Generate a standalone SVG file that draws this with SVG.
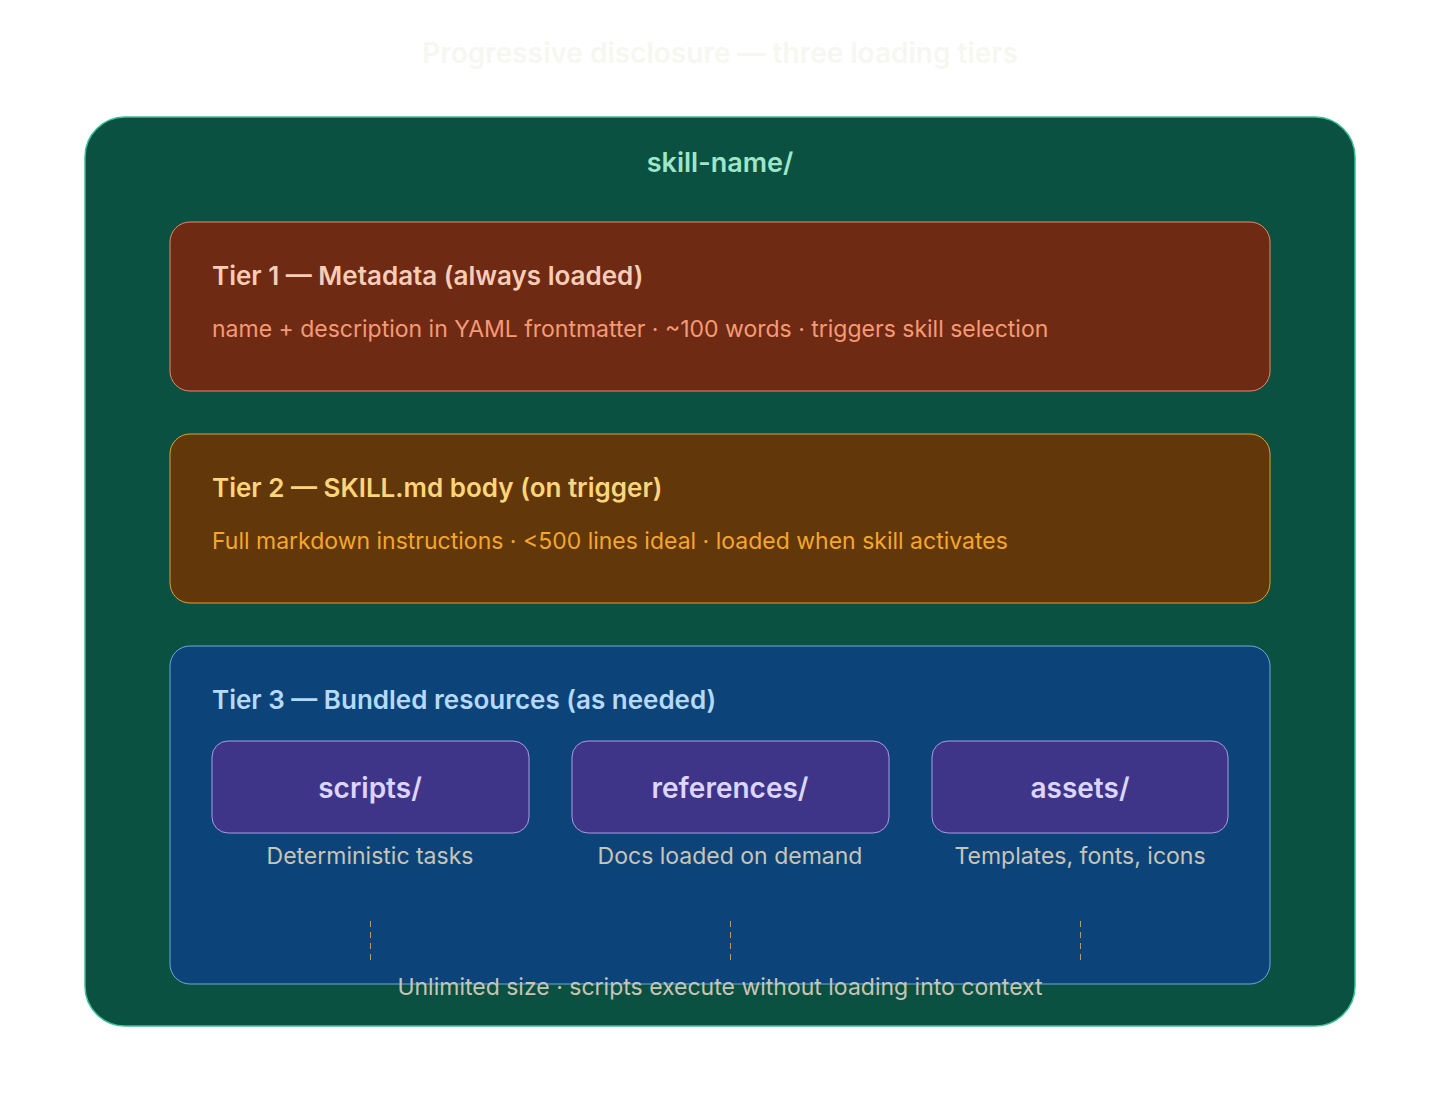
<svg xmlns="http://www.w3.org/2000/svg" width="1440" height="1102" viewBox="0 0 1440 1102">
<style>
text{font-family:Inter,"Noto Sans",sans-serif}
.h{font-size:26px;font-weight:600}
.d{font-size:23px}
.sub{fill:#3f3588;stroke:#a99be6;stroke-width:1}
.st{font-size:28px;font-weight:600;fill:#dcd6ff;text-anchor:middle}
.cap{font-size:23px;fill:#c8c4b8;text-anchor:middle}
</style>
<rect width="1440" height="1102" fill="#ffffff"/>
<text x="720" y="63" font-size="28" font-weight="600" fill="#f7f7f2" text-anchor="middle">Progressive disclosure — three loading tiers</text>
<g id="skill">
<rect x="85" y="117" width="1270" height="909" rx="40" fill="#0a5142" stroke="#3dbf94" stroke-width="1.5"/>
<text x="720" y="172" font-size="27" font-weight="600" fill="#9fe6c8" text-anchor="middle">skill-name/</text>
</g>
<g id="tier1">
<rect x="170" y="222" width="1100" height="169" rx="20" fill="#6f2a14" stroke="#e08a68" stroke-width="1"/>
<text x="212" y="285" class="h" fill="#f8cdb8">Tier 1 — Metadata (always loaded)</text>
<text x="212" y="337" class="d" fill="#f59a74">name + description in YAML frontmatter · ~100 words · triggers skill selection</text>
</g>
<g id="tier2">
<rect x="170" y="434" width="1100" height="169" rx="20" fill="#62370a" stroke="#e0a030" stroke-width="1"/>
<text x="212" y="497" class="h" fill="#fdd57a">Tier 2 — SKILL.md body (on trigger)</text>
<text x="212" y="549" class="d" fill="#f4a72a">Full markdown instructions · &lt;500 lines ideal · loaded when skill activates</text>
</g>
<g id="tier3">
<rect x="170" y="646" width="1100" height="338" rx="20" fill="#0c447a" stroke="#6aa8e0" stroke-width="1"/>
<text x="212" y="709" class="h" fill="#b6d9f8">Tier 3 — Bundled resources (as needed)</text>
</g>
<g id="scripts">
<rect class="sub" x="212" y="741" width="317" height="92" rx="16"/>
<text class="st" x="370" y="798">scripts/</text>
<text class="cap" x="370" y="864">Deterministic tasks</text>
</g>
<g id="references">
<rect class="sub" x="572" y="741" width="317" height="92" rx="16"/>
<text class="st" x="730" y="798">references/</text>
<text class="cap" x="730" y="864">Docs loaded on demand</text>
</g>
<g id="assets">
<rect class="sub" x="932" y="741" width="296" height="92" rx="16"/>
<text class="st" x="1080" y="798">assets/</text>
<text class="cap" x="1080" y="864">Templates, fonts, icons</text>
</g>
<g id="connectors" stroke="#b89a6a" stroke-width="1" stroke-dasharray="6 5">
<line x1="370.5" y1="921" x2="370.5" y2="960"/>
<line x1="730.5" y1="921" x2="730.5" y2="960"/>
<line x1="1080.5" y1="921" x2="1080.5" y2="960"/>
</g>
<text x="720" y="995" font-size="23" fill="#c8c4b8" text-anchor="middle">Unlimited size · scripts execute without loading into context</text>
</svg>
